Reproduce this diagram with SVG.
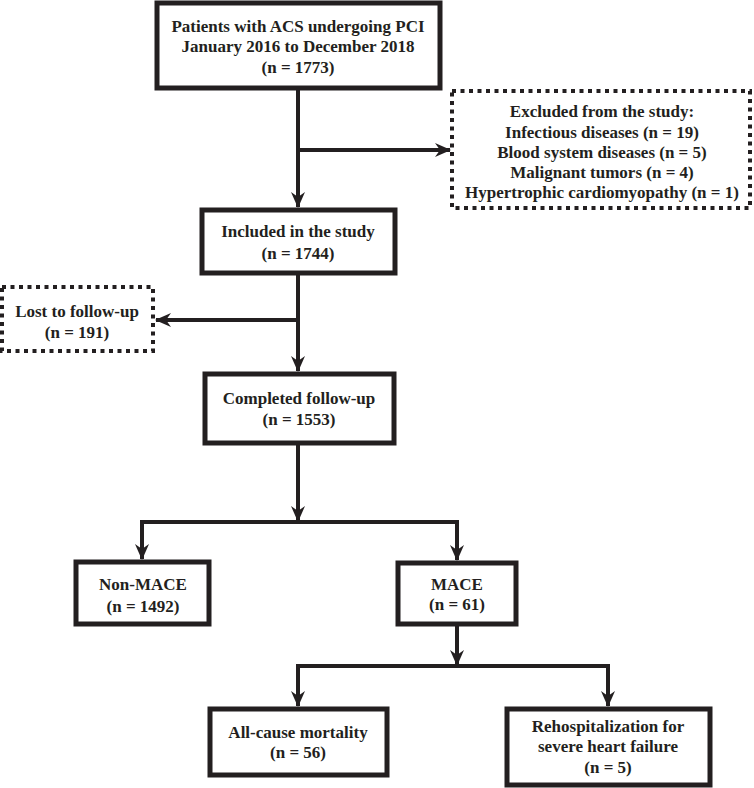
<svg xmlns="http://www.w3.org/2000/svg" width="754" height="788" viewBox="0 0 754 788">
<style>
.box{fill:#fff;stroke:#231f20;stroke-width:5}
.dot{fill:#fff;stroke:#231f20;stroke-width:4;stroke-dasharray:4 4.5}
.t{font-family:"Liberation Serif","Times New Roman",serif;font-weight:bold;font-size:17px;fill:#231f20;text-anchor:middle}
.c{fill:none;stroke:#231f20;stroke-width:4;stroke-linejoin:miter}
</style>
<defs>
<marker id="ah" markerUnits="userSpaceOnUse" markerWidth="16" markerHeight="16" viewBox="0 0 16 16" refX="15" refY="8" orient="auto">
<path d="M0,1 L16,8 L0,15 L5,8 Z" fill="#231f20"/>
</marker>
</defs>
<g id="connectors">
<path class="c" d="M298,88 V207" marker-end="url(#ah)"/>
<path class="c" d="M298,150 H450" marker-end="url(#ah)"/>
<path class="c" d="M298,273 V371" marker-end="url(#ah)"/>
<path class="c" d="M298,320 H156" marker-end="url(#ah)"/>
<path class="c" d="M298,443 V521" marker-end="url(#ah)"/>
<path class="c" d="M298,522 H142 V559" marker-end="url(#ah)"/>
<path class="c" d="M298,522 H457 V560" marker-end="url(#ah)"/>
<path class="c" d="M457,624 V665" marker-end="url(#ah)"/>
<path class="c" d="M457,666 H298 V706" marker-end="url(#ah)"/>
<path class="c" d="M457,666 H608 V706" marker-end="url(#ah)"/>
</g>
<g id="start">
<rect class="box" x="157" y="3" width="283" height="85"/>
<text class="t" x="298" y="32">Patients with ACS undergoing PCI</text>
<text class="t" x="298" y="52">January 2016 to December 2018</text>
<text class="t" x="298" y="73">(n = 1773)</text>
</g>
<g id="excluded">
<rect class="dot" x="452" y="91" width="298" height="117"/>
<text class="t" x="602" y="117">Excluded from the study:</text>
<text class="t" x="602" y="137.5">Infectious diseases (n = 19)</text>
<text class="t" x="602" y="158">Blood system diseases (n = 5)</text>
<text class="t" x="602" y="178">Malignant tumors (n = 4)</text>
<text class="t" x="602" y="198">Hypertrophic cardiomyopathy (n = 1)</text>
</g>
<g id="included">
<rect class="box" x="202" y="210" width="193" height="63"/>
<text class="t" x="298" y="237">Included in the study</text>
<text class="t" x="298" y="259">(n = 1744)</text>
</g>
<g id="lost">
<rect class="dot" x="2" y="287" width="151" height="64"/>
<text class="t" x="77" y="317">Lost to follow-up</text>
<text class="t" x="77" y="338">(n = 191)</text>
</g>
<g id="completed">
<rect class="box" x="205" y="374" width="189" height="69"/>
<text class="t" x="299" y="404">Completed follow-up</text>
<text class="t" x="299" y="425">(n = 1553)</text>
</g>
<g id="nonmace">
<rect class="box" x="76" y="562" width="133" height="62"/>
<text class="t" x="143" y="590">Non-MACE</text>
<text class="t" x="143" y="612">(n = 1492)</text>
</g>
<g id="mace">
<rect class="box" x="398" y="563" width="118" height="61"/>
<text class="t" x="457" y="590">MACE</text>
<text class="t" x="457" y="610">(n = 61)</text>
</g>
<g id="mortality">
<rect class="box" x="210" y="709" width="177" height="66"/>
<text class="t" x="298" y="738">All-cause mortality</text>
<text class="t" x="298" y="758">(n = 56)</text>
</g>
<g id="rehosp">
<rect class="box" x="507" y="709" width="203" height="76"/>
<text class="t" x="608" y="732">Rehospitalization for</text>
<text class="t" x="608" y="752">severe heart failure</text>
<text class="t" x="608" y="773">(n = 5)</text>
</g>
</svg>
